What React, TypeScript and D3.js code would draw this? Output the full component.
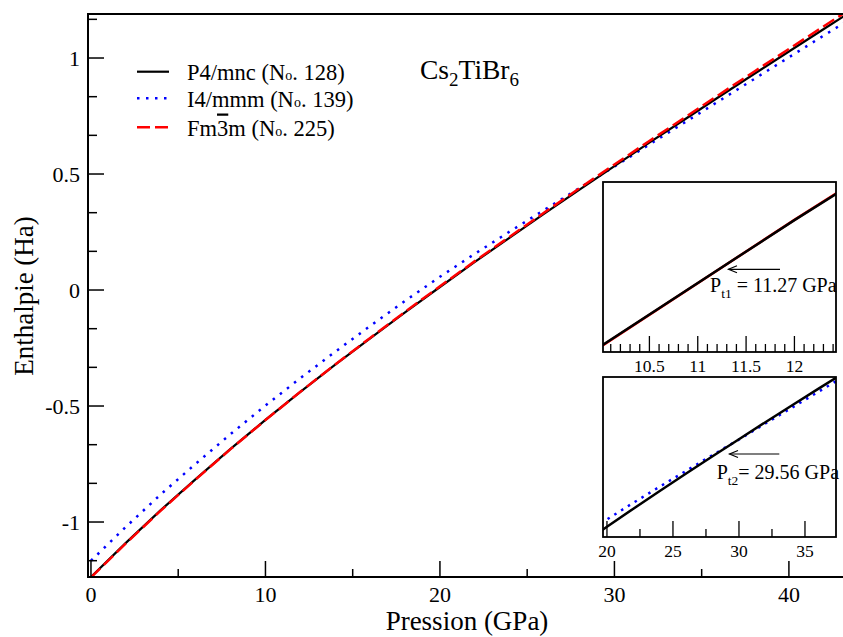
import React from 'react';
import * as d3 from 'd3';

// ---- data ----
const pressure = [0, 2, 4, 6, 8, 10, 12, 14, 16, 18, 20, 22, 24, 26, 28, 30, 32, 34, 36, 38, 40, 42, 44];
const hP4mnc = [-1.237, -1.09, -0.949, -0.815, -0.685, -0.56, -0.439, -0.322, -0.208, -0.096, 0.013, 0.121, 0.226, 0.33, 0.433, 0.534, 0.635, 0.734, 0.833, 0.931, 1.028, 1.125, 1.221];
const hI4mmm = [-1.167, -1.021, -0.881, -0.749, -0.621, -0.498, -0.38, -0.266, -0.155, -0.047, 0.057, 0.156, 0.252, 0.346, 0.44, 0.532, 0.627, 0.721, 0.815, 0.909, 1.003, 1.097, 1.19];
const hFm3m = [-1.239, -1.092, -0.951, -0.8165, -0.686, -0.5605, -0.4388, -0.321, -0.2065, -0.094, 0.016, 0.1245, 0.23, 0.335, 0.439, 0.541, 0.6425, 0.742, 0.842, 0.941, 1.039, 1.137, 1.234];

const xMajorTicks = [0, 10, 20, 30, 40];
const xMinorTicks = [5, 15, 25, 35];
const yMajorTicks = [-1, -0.5, 0, 0.5, 1];
const yTickLabels = ['-1', '-0.5', '0', '0.5', '1'];
const yMinorTicks = [-1.1667, -0.8333, -0.6667, -0.3333, -0.1667, 0.1667, 0.3333, 0.6667, 0.8333, 1.1667];

const inset1Major = [10.5, 11, 11.5, 12];
const inset1Labels = ['10.5', '11', '11.5', '12'];
const inset1Minor = [10.1, 10.2, 10.3, 10.4, 10.6, 10.7, 10.8, 10.9, 11.1, 11.2, 11.3, 11.4, 11.6, 11.7, 11.8, 11.9, 12.1, 12.2, 12.3, 12.4];
const inset2Major = [20, 25, 30, 35];
const inset2Labels = ['20', '25', '30', '35'];
const inset2Minor = [22.5, 27.5, 32.5];

const FONT = 'Liberation Serif, Times New Roman, serif';

type Pt = [number, number];
const zip = (ys: number[]): Pt[] => pressure.map((p, i) => [p, ys[i]] as Pt);

export default function App() {
  const W = 843, H = 637;
  const L = 88, R = 843, T = 14, B = 577;
  const x = d3.scaleLinear().domain([-0.17, 43.1]).range([L, R]);
  const y = d3.scaleLinear().domain([-1.237, 1.1897]).range([B, T]);
  const line = d3.line<Pt>().x(d => x(d[0])).y(d => y(d[1]));

  // insets
  const i1 = { l: 603, r: 836, t: 182, b: 352 };
  const x1 = d3.scaleLinear().domain([10.02, 12.43]).range([i1.l, i1.r]);
  const y1 = d3.scaleLinear().domain([-0.5658, -0.4024]).range([i1.b, i1.t]);
  const line1 = d3.line<Pt>().x(d => x1(d[0])).y(d => y1(d[1]));

  const i2 = { l: 603, r: 836, t: 377, b: 537 };
  const x2 = d3.scaleLinear().domain([19.7, 37.35]).range([i2.l, i2.r]);
  const y2 = d3.scaleLinear().domain([-0.0474, 0.9037]).range([i2.b, i2.t]);
  const line2 = d3.line<Pt>().x(d => x2(d[0])).y(d => y2(d[1]));

  const blackStyle = { fill: 'none', stroke: '#000', strokeWidth: 2.2 };
  const blueStyle = { fill: 'none', stroke: '#0000ff', strokeWidth: 2.5, strokeDasharray: '2.5 6.5' };
  const redStyle = { fill: 'none', stroke: '#ff0000', strokeWidth: 2.5, strokeDasharray: '13 5' };

  const legend = [
    { name: 'P4/mnc', num: '128', style: blackStyle, ly: 71.7, by: 79.5 },
    { name: 'I4/mmm', num: '139', style: blueStyle, ly: 98.3, by: 107 },
    { name: 'Fm3m', num: '225', style: redStyle, ly: 127.3, by: 135.5 },
  ];

  return (
    <svg width={W} height={H} style={{ position: 'absolute', left: 0, top: 0, background: '#fff', fontFamily: FONT }}>
      <defs>
        <clipPath id="mainClip"><rect x={L} y={T} width={R - L} height={B - T} /></clipPath>
        <clipPath id="c1"><rect x={i1.l} y={i1.t} width={i1.r - i1.l} height={i1.b - i1.t} /></clipPath>
        <clipPath id="c2"><rect x={i2.l} y={i2.t} width={i2.r - i2.l} height={i2.b - i2.t} /></clipPath>
      </defs>
      <rect x={0} y={0} width={W} height={H} fill="#fff" />

      {/* main curves */}
      <g clipPath="url(#mainClip)">
        <path d={line(zip(hI4mmm)) || ''} style={blueStyle as any} />
        <path d={line(zip(hP4mnc)) || ''} style={blackStyle as any} />
        <path d={line(zip(hFm3m)) || ''} style={redStyle as any} />
      </g>

      {/* frame */}
      <line x1={L} y1={T} x2={R} y2={T} stroke="#000" strokeWidth={2} />
      <line x1={L} y1={T - 1} x2={L} y2={B + 1} stroke="#000" strokeWidth={2} />
      <line x1={L} y1={B} x2={R} y2={B} stroke="#000" strokeWidth={2} />

      {/* x ticks */}
      {xMajorTicks.map(t => (
        <g key={'xm' + t}>
          <line x1={x(t)} x2={x(t)} y1={B} y2={B - 16} stroke="#000" strokeWidth={1.5} />
          <text x={x(t)} y={601.5} fontSize={22} textAnchor="middle" fontFamily={FONT}>{String(t)}</text>
        </g>
      ))}
      {xMinorTicks.map(t => (
        <line key={'xn' + t} x1={x(t)} x2={x(t)} y1={B} y2={B - 8} stroke="#000" strokeWidth={1.5} />
      ))}
      {/* y ticks */}
      {yMajorTicks.map((t, i) => (
        <g key={'ym' + t}>
          <line x1={L} x2={L + 16} y1={y(t)} y2={y(t)} stroke="#000" strokeWidth={1.5} />
          <text x={80} y={y(t) + 7.5} fontSize={22} textAnchor="end" fontFamily={FONT}>{yTickLabels[i]}</text>
        </g>
      ))}
      {yMinorTicks.map(t => (
        <line key={'yn' + t} x1={L} x2={L + 9} y1={y(t)} y2={y(t)} stroke="#000" strokeWidth={1.5} />
      ))}

      {/* axis titles */}
      <text x={467} y={629.5} fontSize={27} textAnchor="middle" fontFamily={FONT}>Pression (GPa)</text>
      <text transform="translate(33,296) rotate(-90)" fontSize={27} textAnchor="middle" fontFamily={FONT}>Enthalpie (Ha)</text>

      {/* compound title */}
      <text x={420} y={78.5} fontSize={27.5} fontFamily={FONT}>
        Cs<tspan fontSize={19} dy={7}>2</tspan><tspan dy={-7}>TiBr</tspan><tspan fontSize={19} dy={7}>6</tspan>
      </text>

      {/* legend */}
      {legend.map(l => (
        <g key={l.name}>
          <line x1={137} x2={169} y1={l.ly} y2={l.ly} style={l.style as any} />
          <text x={187} y={l.by} fontSize={22.5} fontFamily={FONT}>
            {l.name === 'Fm3m'
              ? (<><tspan>Fm</tspan><tspan style={{ textDecoration: 'overline' }}>3</tspan><tspan>m</tspan></>)
              : l.name}
            {' (N'}<tspan fontSize={14}>o</tspan>{'. ' + l.num + ')'}
          </text>
        </g>
      ))}

      {/* inset 1 */}
      <rect x={i1.l} y={i1.t} width={i1.r - i1.l} height={i1.b - i1.t} fill="#fff" stroke="none" />
      <g clipPath="url(#c1)">
        <path d={line1(zip(hFm3m)) || ''} fill="none" stroke="#ff0000" strokeWidth={2.5} />
        <path d={line1(zip(hP4mnc)) || ''} fill="none" stroke="#000" strokeWidth={2.5} />
      </g>
      {inset1Major.map((t, i) => (
        <g key={'i1m' + t}>
          <line x1={x1(t)} x2={x1(t)} y1={i1.b} y2={i1.b - 16} stroke="#000" strokeWidth={1.3} />
          <text x={x1(t)} y={372} fontSize={17.5} textAnchor="middle" fontFamily={FONT}>{inset1Labels[i]}</text>
        </g>
      ))}
      {inset1Minor.map(t => (
        <line key={'i1n' + t} x1={x1(t)} x2={x1(t)} y1={i1.b} y2={i1.b - 8} stroke="#000" strokeWidth={1.3} />
      ))}
      <rect x={i1.l} y={i1.t} width={i1.r - i1.l} height={i1.b - i1.t} fill="none" stroke="#000" strokeWidth={1.8} />
      <line x1={780} y1={269.3} x2={728.5} y2={269.3} stroke="#000" strokeWidth={1.2} />
      <polyline points="737,265.8 728.5,269.3 737,272.8" fill="none" stroke="#000" strokeWidth={1.2} />
      <text x={710} y={291.7} fontSize={20} fontFamily={FONT}>
        P<tspan fontSize={13.5} dy={6}>t1</tspan><tspan dy={-6}>{' = 11.27 GPa'}</tspan>
      </text>

      {/* inset 2 */}
      <rect x={i2.l} y={i2.t} width={i2.r - i2.l} height={i2.b - i2.t} fill="#fff" stroke="none" />
      <g clipPath="url(#c2)">
        <path d={line2(zip(hI4mmm)) || ''} fill="none" stroke="#0000ff" strokeWidth={2.5} strokeDasharray="2.5 5.5" />
        <path d={line2(zip(hP4mnc)) || ''} fill="none" stroke="#000" strokeWidth={2.5} />
      </g>
      {inset2Major.map((t, i) => (
        <g key={'i2m' + t}>
          <line x1={x2(t)} x2={x2(t)} y1={i2.b} y2={i2.b - 16} stroke="#000" strokeWidth={1.3} />
          <text x={x2(t)} y={557.3} fontSize={17.5} textAnchor="middle" fontFamily={FONT}>{inset2Labels[i]}</text>
        </g>
      ))}
      {inset2Minor.map(t => (
        <line key={'i2n' + t} x1={x2(t)} x2={x2(t)} y1={i2.b} y2={i2.b - 8} stroke="#000" strokeWidth={1.3} />
      ))}
      <rect x={i2.l} y={i2.t} width={i2.r - i2.l} height={i2.b - i2.t} fill="none" stroke="#000" strokeWidth={1.8} />
      <line x1={779.3} y1={454} x2={729.5} y2={454} stroke="#000" strokeWidth={1.2} />
      <polyline points="738,450.5 729.5,454 738,457.5" fill="none" stroke="#000" strokeWidth={1.2} />
      <text x={716.7} y={479.3} fontSize={20} fontFamily={FONT}>
        P<tspan fontSize={13.5} dy={6}>t2</tspan><tspan dy={-6}>{'= 29.56 GPa'}</tspan>
      </text>
    </svg>
  );
}
